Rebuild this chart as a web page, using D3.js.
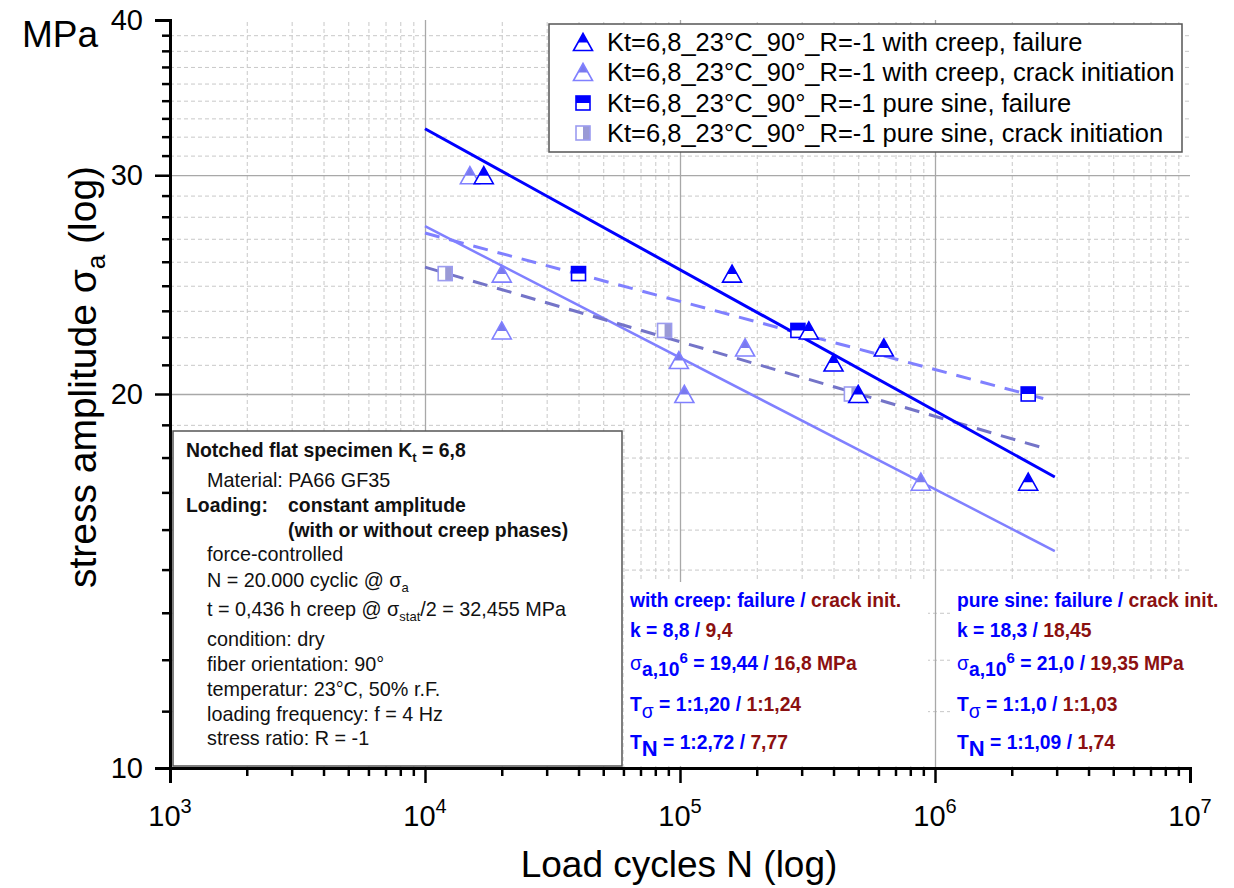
<!DOCTYPE html>
<html><head><meta charset="utf-8">
<script src="https://cdn.jsdelivr.net/npm/d3@7"></script>
<style>
html,body{margin:0;padding:0;background:#fff;}
svg{display:block;font-family:'Liberation Sans',Arial,sans-serif;}
</style></head>
<body>
<svg id="c" width="1234" height="888"></svg>
<script>
// ---------------- data ----------------
const creepFailN  = [1.7e4, 1.6e5, 3.2e5, 4.0e5, 5.0e5, 6.3e5, 2.32e6];
const creepFailS  = [30, 25, 22.5, 21.2, 20, 21.8, 17];
const creepCrackN = [1.5e4, 2.0e4, 2.0e4, 0.99e5, 1.04e5, 1.8e5, 8.8e5];
const creepCrackS = [30, 25, 22.5, 21.3, 20, 21.8, 17];
const sineFailN   = [4.0e4, 2.9e5, 2.32e6];
const sineFailS   = [25, 22.5, 20];
const sineCrackN  = [1.2e4, 8.7e4, 4.7e5];
const sineCrackS  = [25, 22.5, 20];

const fitCreepFailN  = [1e4, 2.95e6];  const fitCreepFailS  = [32.7, 17.15];
const fitCreepCrackN = [1e4, 2.95e6];  const fitCreepCrackS = [27.3, 14.95];
const fitSineFailN   = [1e4, 2.74e6];  const fitSineFailS   = [26.95, 19.8];
const fitSineCrackN  = [1e4, 2.65e6];  const fitSineCrackS  = [25.3, 18.1];

const xMajorExp = [3, 4, 5, 6, 7];
const yMajorTicks = [10, 20, 30, 40];

const legendLabels = [
  "Kt=6,8_23°C_90°_R=-1 with creep, failure",
  "Kt=6,8_23°C_90°_R=-1 with creep, crack initiation",
  "Kt=6,8_23°C_90°_R=-1 pure sine, failure",
  "Kt=6,8_23°C_90°_R=-1 pure sine, crack initiation"
];

// ---------------- setup ----------------
const svg = d3.select("#c");
const L = 170, R = 1190, T = 20, B = 768;
const x = d3.scaleLog().domain([1e3, 1e7]).range([L, R]);
const y = d3.scaleLog().domain([10, 40]).range([B, T]);

const BLUE = "#0000ff", LIGHT = "#8080ff", LIGHTFILL = "#7a7aee", GREYB = "#7474c8", RED = "#8b1010";

const xMinor = [];
for (let e = 3; e < 7; e++) for (let m = 2; m <= 9; m++) xMinor.push(m * Math.pow(10, e));
const yMinor = [];
for (let i = 0; i < yMajorTicks.length - 1; i++) {
  const a = yMajorTicks[i], b = yMajorTicks[i + 1];
  for (let k = 1; k <= 8; k++) yMinor.push(a + (b - a) * k / 9);
}

// ---------------- grid ----------------
const gGrid = svg.append("g");
gGrid.append("g").attr("transform", `translate(0,${B})`)
  .call(d3.axisBottom(x).tickValues(xMinor).tickSize(-(B - T)).tickFormat(""))
  .call(g => g.select(".domain").remove())
  .call(g => g.selectAll("line").attr("stroke", "#c8c8c8").attr("stroke-width", 1).attr("stroke-dasharray", "4,3"));
gGrid.append("g").attr("transform", `translate(${L},0)`)
  .call(d3.axisLeft(y).tickValues(yMinor).tickSize(-(R - L)).tickFormat(""))
  .call(g => g.select(".domain").remove())
  .call(g => g.selectAll("line").attr("stroke", "#c8c8c8").attr("stroke-width", 1).attr("stroke-dasharray", "4,3"));
gGrid.append("g").attr("transform", `translate(0,${B})`)
  .call(d3.axisBottom(x).tickValues([1e4, 1e5, 1e6]).tickSize(-(B - T)).tickFormat(""))
  .call(g => g.select(".domain").remove())
  .call(g => g.selectAll("line").attr("stroke", "#a8a8a8").attr("stroke-width", 1.3));
gGrid.append("g").attr("transform", `translate(${L},0)`)
  .call(d3.axisLeft(y).tickValues([20, 30]).tickSize(-(R - L)).tickFormat(""))
  .call(g => g.select(".domain").remove())
  .call(g => g.selectAll("line").attr("stroke", "#a8a8a8").attr("stroke-width", 1.3));

// ---------------- white text panels (cover grid) ----------------
svg.append("rect").attr("x", 624).attr("y", 582).attr("width", 304).attr("height", 184).attr("fill", "#fff");
svg.append("rect").attr("x", 950).attr("y", 582).attr("width", 240).attr("height", 184).attr("fill", "#fff");

// ---------------- fit lines ----------------
const line = d3.line().x(d => x(d[0])).y(d => y(d[1]));
function fit(N, S, color, w, dash) {
  svg.append("path").datum(N.map((n, i) => [n, S[i]])).attr("d", line)
    .attr("fill", "none").attr("stroke", color).attr("stroke-width", w)
    .attr("stroke-dasharray", dash || null);
}
fit(fitCreepCrackN, fitCreepCrackS, LIGHT, 2.5);
fit(fitSineFailN, fitSineFailS, LIGHT, 3, "15,10");
fit(fitSineCrackN, fitSineCrackS, GREYB, 3, "15,10");
fit(fitCreepFailN, fitCreepFailS, BLUE, 3);

// ---------------- markers ----------------
function tri(g, cx, cy, top, stroke) {
  const w = 9.5, h = 8.5;
  const m = g.append("g").attr("transform", `translate(${cx},${cy})`);
  m.append("path").attr("d", `M${-w},${h}L${w},${h}L0,${-h}Z`).attr("fill", "#fff");
  m.append("path").attr("d", `M${-w / 2 - 0.3},0.5L${w / 2 + 0.3},0.5L0,${-h}Z`).attr("fill", top);
  m.append("path").attr("d", `M${-w},${h}L${w},${h}L0,${-h}Z`).attr("fill", "none").attr("stroke", stroke).attr("stroke-width", 1.6);
}
function sqH(g, cx, cy) {
  const s = 7;
  const m = g.append("g").attr("transform", `translate(${cx},${cy})`);
  m.append("rect").attr("x", -s).attr("y", -s).attr("width", 2 * s).attr("height", 2 * s).attr("fill", "#fff");
  m.append("rect").attr("x", -s).attr("y", -s).attr("width", 2 * s).attr("height", s).attr("fill", BLUE);
  m.append("rect").attr("x", -s).attr("y", -s).attr("width", 2 * s).attr("height", 2 * s).attr("fill", "none").attr("stroke", BLUE).attr("stroke-width", 1.6);
}
function sqV(g, cx, cy) {
  const s = 7;
  const m = g.append("g").attr("transform", `translate(${cx},${cy})`);
  m.append("rect").attr("x", -s).attr("y", -s).attr("width", 2 * s).attr("height", 2 * s).attr("fill", "#fff");
  m.append("rect").attr("x", 0).attr("y", -s).attr("width", s).attr("height", 2 * s).attr("fill", "#9a9ad6");
  m.append("rect").attr("x", -s).attr("y", -s).attr("width", 2 * s).attr("height", 2 * s).attr("fill", "none").attr("stroke", "#9c9cf0").attr("stroke-width", 1.6);
}
const gM = svg.append("g");
sineCrackN.forEach((n, i) => sqV(gM, x(n), y(sineCrackS[i])));
creepCrackN.forEach((n, i) => tri(gM, x(n), y(creepCrackS[i]), LIGHTFILL, LIGHT));
sineFailN.forEach((n, i) => sqH(gM, x(n), y(sineFailS[i])));
creepFailN.forEach((n, i) => tri(gM, x(n), y(creepFailS[i]), BLUE, BLUE));

// ---------------- axes ----------------
const gAx = svg.append("g");
gAx.append("g").attr("transform", `translate(0,${B})`)
  .call(d3.axisBottom(x).tickValues(xMajorExp.map(e => Math.pow(10, e))).tickSize(15).tickFormat(""));
gAx.append("g").attr("transform", `translate(0,${B})`)
  .call(d3.axisBottom(x).tickValues(xMinor).tickSize(8).tickFormat(""))
  .call(g => g.select(".domain").remove());
gAx.append("g").attr("transform", `translate(${L},0)`)
  .call(d3.axisLeft(y).tickValues(yMajorTicks).tickSize(15).tickFormat(""));
gAx.append("g").attr("transform", `translate(${L},0)`)
  .call(d3.axisLeft(y).tickValues(yMinor).tickSize(8).tickFormat(""))
  .call(g => g.select(".domain").remove());
gAx.selectAll(".domain").attr("stroke", "#000").attr("stroke-width", 3);
gAx.selectAll(".tick line").attr("stroke", "#000").attr("stroke-width", 2.5);

// x tick labels
xMajorExp.forEach(e => {
  const t = svg.append("text").attr("x", x(Math.pow(10, e))).attr("y", 826)
    .attr("text-anchor", "middle").attr("font-size", 29).attr("fill", "#000");
  t.append("tspan").text("10");
  t.append("tspan").attr("dy", -13).attr("font-size", 20).text(e);
});
// y tick labels
yMajorTicks.forEach(v => {
  svg.append("text").attr("x", 143).attr("y", y(v) + 10).attr("text-anchor", "end")
    .attr("font-size", 29).attr("fill", "#000").text(v);
});

// axis titles
svg.append("text").attr("x", 22).attr("y", 47).attr("font-size", 37).attr("fill", "#000").text("MPa");
svg.append("text").attr("x", 679).attr("y", 877).attr("text-anchor", "middle")
  .attr("font-size", 37).attr("fill", "#000").text("Load cycles N (log)");
const yl = svg.append("text").attr("transform", "translate(96,377) rotate(-90)")
  .attr("text-anchor", "middle").attr("font-size", 39).attr("fill", "#000");
yl.append("tspan").text("stress amplitude σ");
yl.append("tspan").attr("dy", 9).attr("font-size", 26).text("a");
yl.append("tspan").attr("dy", -9).text(" (log)");

// ---------------- legend ----------------
const lg = svg.append("g");
lg.append("rect").attr("x", 549).attr("y", 24).attr("width", 633).attr("height", 128)
  .attr("fill", "#fff").attr("stroke", "#555").attr("stroke-width", 1.5);
const rowY = [42, 72, 103, 133];
const markFns = [
  (g, cx, cy) => tri(g, cx, cy, BLUE, BLUE),
  (g, cx, cy) => tri(g, cx, cy, LIGHTFILL, LIGHT),
  (g, cx, cy) => sqH(g, cx, cy),
  (g, cx, cy) => sqV(g, cx, cy)
];
legendLabels.forEach((lab, i) => {
  markFns[i](lg, 583, rowY[i]);
  lg.append("text").attr("x", 607).attr("y", rowY[i] + 9).attr("font-size", 25.5).attr("fill", "#000").text(lab);
});

// ---------------- left info box ----------------
const ib = svg.append("g");
ib.append("rect").attr("x", 173).attr("y", 431).attr("width", 449).attr("height", 335)
  .attr("fill", "#fff").attr("stroke", "#555").attr("stroke-width", 1.5);
function txt(xx, yy, bold) {
  return ib.append("text").attr("x", xx).attr("y", yy).attr("font-size", bold ? 19.4 : 19.8)
    .attr("font-weight", bold ? "bold" : "normal").attr("fill", "#111");
}
let t = txt(186, 457, true);
t.append("tspan").text("Notched flat specimen K");
t.append("tspan").attr("dy", 5).attr("font-size", 13).text("t");
t.append("tspan").attr("dy", -5).text(" = 6,8");
txt(207, 487).text("Material: PA66 GF35");
txt(186, 512, true).text("Loading:");
txt(288, 512, true).text("constant amplitude");
txt(288, 537, true).text("(with or without creep phases)");
txt(207, 561).text("force-controlled");
t = txt(207, 587);
t.append("tspan").text("N = 20.000 cyclic @ σ");
t.append("tspan").attr("dy", 5).attr("font-size", 13).text("a");
t = txt(207, 616);
t.append("tspan").text("t = 0,436 h creep @ σ");
t.append("tspan").attr("dy", 5).attr("font-size", 13).text("stat");
t.append("tspan").attr("dy", -5).text("/2 = 32,455 MPa");
txt(207, 646).text("condition: dry");
txt(207, 671).text("fiber orientation: 90°");
txt(207, 696).text("temperatur: 23°C, 50% r.F.");
txt(207, 721).text("loading frequency: f = 4 Hz");
txt(207, 745).text("stress ratio: R = -1");

// ---------------- right info blocks ----------------
function block(x0, head, kB, kR, sB, sR, tsB, tsR, tnB, tnR) {
  const g = svg.append("g").attr("font-weight", "bold").attr("font-size", 19.3);
  let a = g.append("text").attr("x", x0).attr("y", 607);
  a.append("tspan").attr("fill", BLUE).text(head + ": failure / ");
  a.append("tspan").attr("fill", RED).text("crack init.");
  a = g.append("text").attr("x", x0).attr("y", 637);
  a.append("tspan").attr("fill", BLUE).text("k = " + kB + " / ");
  a.append("tspan").attr("fill", RED).text(kR);
  a = g.append("text").attr("x", x0).attr("y", 670);
  a.append("tspan").attr("fill", BLUE).attr("font-weight", "normal").text("σ");
  a.append("tspan").attr("fill", BLUE).attr("dy", 6).text("a,10");
  a.append("tspan").attr("fill", BLUE).attr("dy", -13).attr("font-size", 15).text("6");
  a.append("tspan").attr("fill", BLUE).attr("dy", 7).text(" = " + sB + " / ");
  a.append("tspan").attr("fill", RED).text(sR + " MPa");
  a = g.append("text").attr("x", x0).attr("y", 711);
  a.append("tspan").attr("fill", BLUE).text("T");
  a.append("tspan").attr("fill", BLUE).attr("font-weight", "normal").attr("dy", 7).text("σ");
  a.append("tspan").attr("fill", BLUE).attr("dy", -7).text(" = " + tsB + " / ");
  a.append("tspan").attr("fill", RED).text(tsR);
  a = g.append("text").attr("x", x0).attr("y", 749);
  a.append("tspan").attr("fill", BLUE).text("T");
  a.append("tspan").attr("fill", BLUE).attr("dy", 7).attr("font-size", 22).text("N");
  a.append("tspan").attr("fill", BLUE).attr("dy", -7).text(" = " + tnB + " / ");
  a.append("tspan").attr("fill", RED).text(tnR);
}
block(630, "with creep", "8,8", "9,4", "19,44", "16,8", "1:1,20", "1:1,24", "1:2,72", "7,77");
block(957, "pure sine", "18,3", "18,45", "21,0", "19,35", "1:1,0", "1:1,03", "1:1,09", "1,74");
</script>
</body></html>
